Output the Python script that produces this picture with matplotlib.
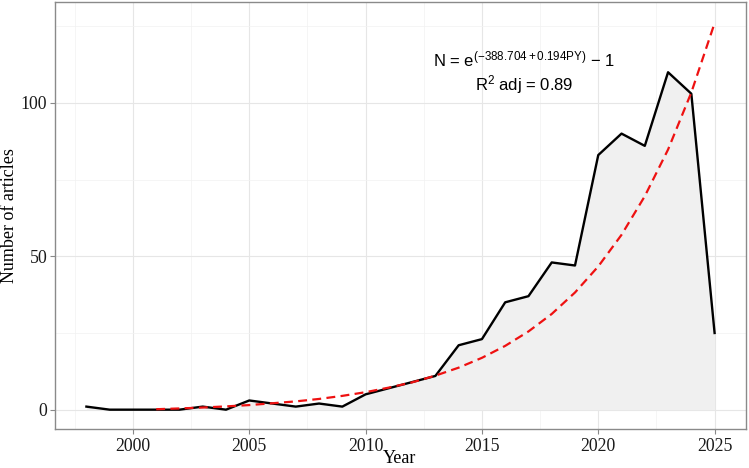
import matplotlib
matplotlib.use("Agg")
import matplotlib.pyplot as plt
from matplotlib.ticker import MultipleLocator

years = [1998, 1999, 2000, 2001, 2002, 2003, 2004, 2005, 2006, 2007, 2008, 2009, 2010,
         2011, 2012, 2013, 2014, 2015, 2016, 2017, 2018, 2019, 2020, 2021, 2022, 2023,
         2024, 2025]
articles = [1, 0, 0, 0, 0, 1, 0, 3, 2, 1, 2, 1, 5, 7, 9, 11, 21, 23, 35, 37, 48, 47,
            83, 90, 86, 110, 103, 25]

fit_years = [2001, 2002, 2003, 2004, 2005, 2006, 2007, 2008, 2009, 2010, 2011, 2012,
             2013, 2014, 2015, 2016, 2017, 2018, 2019, 2020, 2021, 2022, 2023, 2024, 2025]
fit_values = [0.15, 0.4, 0.7, 1.07, 1.5, 2.1, 2.7, 3.5, 4.5, 5.7, 7.2, 8.9, 11.1, 13.7,
              16.9, 20.8, 25.5, 31.2, 38.2, 46.7, 57.0, 69.6, 84.8, 103.4, 126.0]

x_ticks = [2000, 2005, 2010, 2015, 2020, 2025]
y_ticks = [0, 50, 100]

plt.rcParams['mathtext.fontset'] = 'custom'
plt.rcParams['mathtext.rm'] = 'Liberation Sans'
plt.rcParams['mathtext.it'] = 'Liberation Sans:italic'

fig = plt.figure(figsize=(7.49, 4.68), dpi=100)
ax = fig.add_axes([55/749, 1 - 429/468, (746-55)/749, (429-2)/468])

ax.fill_between(years, articles, 0, color='#f0f0f0', linewidth=0, zorder=1)
ax.plot(years, articles, color='black', linewidth=1.7, zorder=3)
ax.plot(fit_years, fit_values, color='#ee1111', linewidth=1.6, linestyle=(0, (4, 2.4)), zorder=4)

ax.set_xlim(1996.65, 2026.35)
ax.set_ylim(-6.3, 132.9)
ax.set_xticks(x_ticks)
ax.set_yticks(y_ticks)
ax.xaxis.set_minor_locator(MultipleLocator(2.5))
ax.yaxis.set_minor_locator(MultipleLocator(25))
ax.grid(which='major', color='#e6e6e6', linewidth=0.8, zorder=0)
ax.grid(which='minor', color='#f2f2f2', linewidth=0.5, zorder=0)
ax.set_axisbelow(True)
ax.tick_params(which='minor', length=0)
ax.tick_params(which='major', length=3.5, color='#888888', width=0.8)

serif = 'Liberation Serif'
for lab in ax.get_xticklabels() + ax.get_yticklabels():
    lab.set_fontfamily(serif)
    lab.set_fontsize(12.8)
    lab.set_color('#1a1a1a')
ax.tick_params(axis='x', pad=3)
ax.tick_params(axis='y', pad=2)

for s in ax.spines.values():
    s.set_color('#8a8a8a')
    s.set_linewidth(1.0)

fig.text(400/749, 1 - 463/468, 'Year', family=serif, fontsize=13,
         ha='center', va='baseline')
fig.text(9.5/749, 1 - 216/468, 'Number of articles', family=serif, fontsize=13,
         ha='center', va='center', rotation=90)

ax.text(2016.8, 114.2, r'N = e$^{\mathrm{(-388.704+0.194PY)}}$ $-$ 1', family='Liberation Sans',
        fontsize=12, ha='center', va='center')
ax.text(2016.8, 105.9, r'R$^{\mathrm{2}}$ adj = 0.89', family='Liberation Sans',
        fontsize=12, ha='center', va='center')

fig.savefig('out.png', dpi=100)
